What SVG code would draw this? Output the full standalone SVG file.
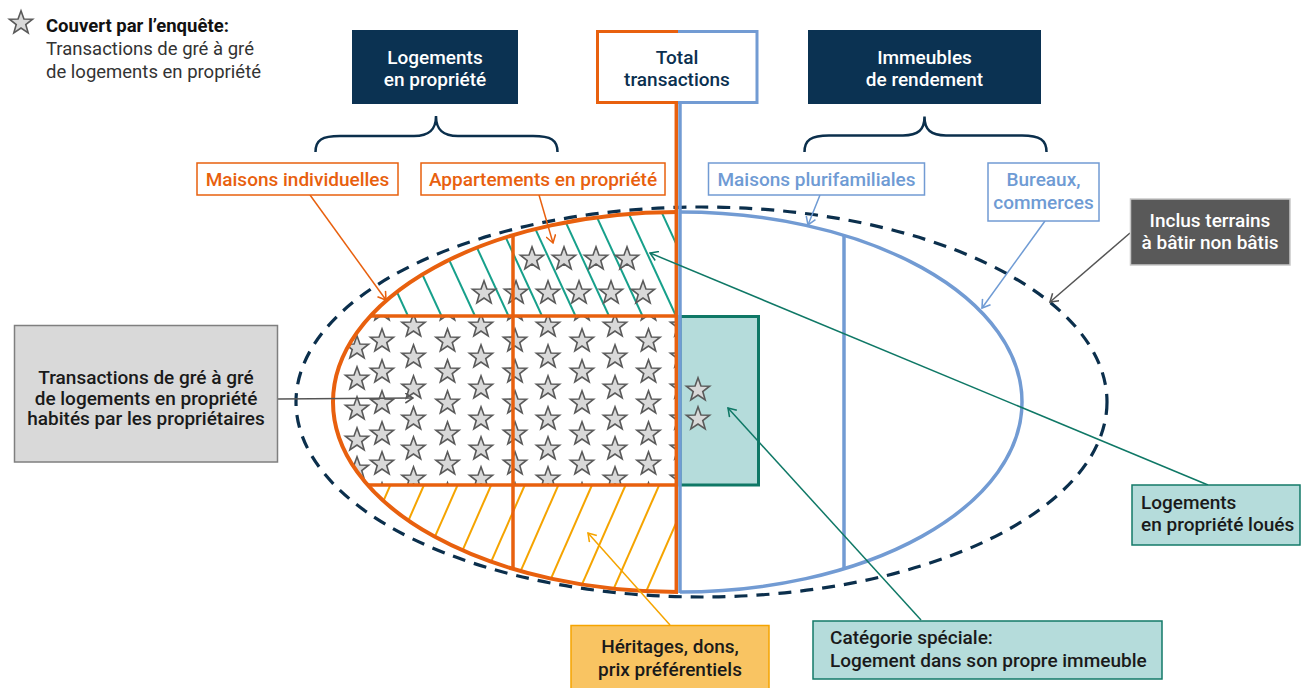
<svg xmlns="http://www.w3.org/2000/svg" xmlns:xlink="http://www.w3.org/1999/xlink" width="1304" height="688" viewBox="0 0 1304 688">
<style>
text{font-family:Roboto,"Liberation Sans",sans-serif;}
.t19{font-size:19px;font-weight:500;}
.hdr{fill:#ffffff;text-anchor:middle;}
.navy{fill:#0b3050;text-anchor:middle;}
.or{fill:#e8600e;text-anchor:middle;}
.bl{fill:#6f9bd4;text-anchor:middle;}
.dk{fill:#1a1a1a;}
.mid{text-anchor:middle;}
.teal{stroke:#17a08b;stroke-width:2;}
.yel{stroke:#f5a400;stroke-width:2;}
.conn{fill:none;stroke-width:1.5;}
</style>
<defs>
<path id="star" d="M0,-12.2 L2.94,-4.05 L11.6,-3.77 L4.76,1.55 L7.17,9.87 L0,5 L-7.17,9.87 L-4.76,1.55 L-11.6,-3.77 L-2.94,-4.05 Z" fill="#d9d9d9" stroke="#5a5a5a" stroke-width="1.6"/>
<clipPath id="ellL"><ellipse cx="678" cy="402" rx="345" ry="190"/></clipPath>
<clipPath id="topBand"><rect x="300" y="180" width="376" height="136"/></clipPath>
<clipPath id="midBand"><rect x="300" y="316" width="376" height="169"/></clipPath>
<clipPath id="botBand"><rect x="300" y="485" width="376" height="130"/></clipPath>
<marker id="aOr" viewBox="0 0 10 10" refX="9" refY="5" markerWidth="11" markerHeight="11" markerUnits="userSpaceOnUse" orient="auto"><path d="M2,0.5 L9,5 L2,9.5" fill="none" stroke="#e8600e" stroke-width="1.4"/></marker>
<marker id="aBl" viewBox="0 0 10 10" refX="9" refY="5" markerWidth="11" markerHeight="11" markerUnits="userSpaceOnUse" orient="auto"><path d="M2,0.5 L9,5 L2,9.5" fill="none" stroke="#6f9bd4" stroke-width="1.4"/></marker>
<marker id="aGr" viewBox="0 0 10 10" refX="9" refY="5" markerWidth="11" markerHeight="11" markerUnits="userSpaceOnUse" orient="auto"><path d="M2,0.5 L9,5 L2,9.5" fill="none" stroke="#555555" stroke-width="1.4"/></marker>
<marker id="aTe" viewBox="0 0 10 10" refX="9" refY="5" markerWidth="11" markerHeight="11" markerUnits="userSpaceOnUse" orient="auto"><path d="M2,0.5 L9,5 L2,9.5" fill="none" stroke="#0f7866" stroke-width="1.4"/></marker>
<marker id="aYe" viewBox="0 0 10 10" refX="9" refY="5" markerWidth="11" markerHeight="11" markerUnits="userSpaceOnUse" orient="auto"><path d="M2,0.5 L9,5 L2,9.5" fill="none" stroke="#f5a400" stroke-width="1.4"/></marker>
</defs>
<rect width="1304" height="688" fill="#ffffff"/>

<!-- legend -->
<g id="legend">
<use href="#star" x="21" y="23"/>
<text x="46" y="31.5" font-size="18.5" font-weight="700" fill="#111">Couvert par l’enquête:</text>
<text x="46" y="54.5" font-size="18.5" fill="#333">Transactions de gré à gré</text>
<text x="46" y="77.5" font-size="18.5" fill="#333">de logements en propriété</text>
</g>

<!-- inner ellipse content -->
<g id="hatch-stars">
<g clip-path="url(#ellL)">
<g clip-path="url(#topBand)">
<line class="teal" x1="314.5" y1="186" x2="374.5" y2="316"/>
<line class="teal" x1="348" y1="186" x2="408" y2="316"/>
<line class="teal" x1="381.5" y1="186" x2="441.5" y2="316"/>
<line class="teal" x1="415" y1="186" x2="475" y2="316"/>
<line class="teal" x1="448.5" y1="186" x2="508.5" y2="316"/>
<line class="teal" x1="482" y1="186" x2="542" y2="316"/>
<line class="teal" x1="515.5" y1="186" x2="575.5" y2="316"/>
<line class="teal" x1="549" y1="186" x2="609" y2="316"/>
<line class="teal" x1="582.5" y1="186" x2="642.5" y2="316"/>
<line class="teal" x1="616" y1="186" x2="676" y2="316"/>
<line class="teal" x1="649.5" y1="186" x2="709.5" y2="316"/>
<use href="#star" x="532" y="259"/><use href="#star" x="564" y="259"/><use href="#star" x="596" y="259"/><use href="#star" x="627" y="259"/>
<use href="#star" x="484" y="293"/><use href="#star" x="516" y="293"/><use href="#star" x="548" y="293"/><use href="#star" x="579" y="293"/><use href="#star" x="611" y="293"/><use href="#star" x="643" y="293"/>
</g>
<g clip-path="url(#botBand)">
<line class="yel" x1="390.4" y1="485" x2="333.4" y2="615"/>
<line class="yel" x1="424" y1="485" x2="367" y2="615"/>
<line class="yel" x1="457.6" y1="485" x2="400.6" y2="615"/>
<line class="yel" x1="491.2" y1="485" x2="434.2" y2="615"/>
<line class="yel" x1="524.8" y1="485" x2="467.8" y2="615"/>
<line class="yel" x1="558.4" y1="485" x2="501.4" y2="615"/>
<line class="yel" x1="592" y1="485" x2="535" y2="615"/>
<line class="yel" x1="625.6" y1="485" x2="568.6" y2="615"/>
<line class="yel" x1="659.2" y1="485" x2="602.2" y2="615"/>
<line class="yel" x1="692.8" y1="485" x2="635.8" y2="615"/>
</g>
<g clip-path="url(#midBand)">
<use href="#star" x="357" y="348"/><use href="#star" x="357" y="379"/><use href="#star" x="357" y="409"/><use href="#star" x="357" y="440"/><use href="#star" x="357" y="469"/>
<use href="#star" x="382" y="310"/><use href="#star" x="382" y="341"/><use href="#star" x="382" y="372"/><use href="#star" x="382" y="403"/><use href="#star" x="382" y="434"/><use href="#star" x="382" y="464"/><use href="#star" x="382" y="495"/>
<use href="#star" x="413.5" y="326"/><use href="#star" x="413.5" y="357"/><use href="#star" x="413.5" y="388"/><use href="#star" x="413.5" y="419"/><use href="#star" x="413.5" y="449"/><use href="#star" x="413.5" y="479"/>
<use href="#star" x="447.5" y="310"/><use href="#star" x="447.5" y="341"/><use href="#star" x="447.5" y="372"/><use href="#star" x="447.5" y="403"/><use href="#star" x="447.5" y="434"/><use href="#star" x="447.5" y="464"/><use href="#star" x="447.5" y="495"/>
<use href="#star" x="481" y="326"/><use href="#star" x="481" y="357"/><use href="#star" x="481" y="388"/><use href="#star" x="481" y="419"/><use href="#star" x="481" y="449"/><use href="#star" x="481" y="479"/>
<use href="#star" x="515" y="310"/><use href="#star" x="515" y="341"/><use href="#star" x="515" y="372"/><use href="#star" x="515" y="403"/><use href="#star" x="515" y="434"/><use href="#star" x="515" y="464"/><use href="#star" x="515" y="495"/>
<use href="#star" x="548" y="326"/><use href="#star" x="548" y="357"/><use href="#star" x="548" y="388"/><use href="#star" x="548" y="419"/><use href="#star" x="548" y="449"/><use href="#star" x="548" y="479"/>
<use href="#star" x="582" y="310"/><use href="#star" x="582" y="341"/><use href="#star" x="582" y="372"/><use href="#star" x="582" y="403"/><use href="#star" x="582" y="434"/><use href="#star" x="582" y="464"/><use href="#star" x="582" y="495"/>
<use href="#star" x="615" y="326"/><use href="#star" x="615" y="357"/><use href="#star" x="615" y="388"/><use href="#star" x="615" y="419"/><use href="#star" x="615" y="449"/><use href="#star" x="615" y="479"/>
<use href="#star" x="648.5" y="310"/><use href="#star" x="648.5" y="341"/><use href="#star" x="648.5" y="372"/><use href="#star" x="648.5" y="403"/><use href="#star" x="648.5" y="434"/><use href="#star" x="648.5" y="464"/><use href="#star" x="648.5" y="495"/>
<use href="#star" x="682" y="326"/><use href="#star" x="682" y="357"/><use href="#star" x="682" y="388"/><use href="#star" x="682" y="419"/><use href="#star" x="682" y="449"/><use href="#star" x="682" y="479"/>
</g>
</g>
</g>

<!-- special category rectangle -->
<g id="special-rect">
<rect x="680" y="316.5" width="78.5" height="168.5" fill="#b5dcdb" stroke="#0f7866" stroke-width="3"/>
<use href="#star" x="698" y="390"/>
<use href="#star" x="698" y="419"/>
</g>

<!-- outer dashed ellipse -->
<g id="outer-ellipse">
<ellipse cx="701.5" cy="402" rx="405.5" ry="195" fill="none" stroke="#0b2f4c" stroke-width="3.2" stroke-dasharray="13 9"/>
</g>

<!-- inner ellipse outlines -->
<g id="inner-ellipse">
<path d="M678,212 A345,190 0 0 0 678,592" fill="none" stroke="#e8600e" stroke-width="4"/>
<path d="M680,212 A342,190 0 0 1 680,592" fill="none" stroke="#729bd3" stroke-width="3.5"/>
<line x1="370.4" y1="316" x2="676" y2="316" stroke="#e8600e" stroke-width="3.5"/>
<line x1="367.7" y1="485" x2="676" y2="485" stroke="#e8600e" stroke-width="3.5"/>
<line x1="513" y1="235" x2="513" y2="569" stroke="#e8600e" stroke-width="3.5"/>
<line x1="844" y1="235.5" x2="844" y2="568.5" stroke="#729bd3" stroke-width="3.5"/>
<line x1="676.3" y1="103" x2="676.3" y2="592" stroke="#e8600e" stroke-width="3.5"/>
<line x1="680" y1="103" x2="680" y2="593" stroke="#729bd3" stroke-width="3.5"/>
</g>

<!-- braces -->
<g id="braces" fill="none" stroke="#0b2f4c" stroke-width="2.5">
<path d="M315.5,152 C315.5,140 322,136 340,136 L414,136 C429,136 436,130 436,116 C436,130 443,136 458,136 L533,136 C551,136 557.5,140 557.5,152"/>
<path d="M804.5,152 C804.5,140 811,135.5 829,135.5 L903,135.5 C918,135.5 924.5,130 924.5,116.5 C924.5,130 931,135.5 946,135.5 L1022,135.5 C1040,135.5 1046.5,140 1046.5,152"/>
</g>

<!-- connectors -->
<g id="connectors" class="conn">
<line x1="310" y1="195" x2="386" y2="300" stroke="#e8600e" marker-end="url(#aOr)"/>
<line x1="539" y1="195" x2="553" y2="243" stroke="#e8600e" marker-end="url(#aOr)"/>
<line x1="820" y1="195" x2="808" y2="225" stroke="#6f9bd4" marker-end="url(#aBl)"/>
<line x1="1045" y1="221" x2="982" y2="308" stroke="#6f9bd4" marker-end="url(#aBl)"/>
<line x1="1130" y1="233" x2="1050" y2="302" stroke="#555555" marker-end="url(#aGr)"/>
<line x1="278" y1="399" x2="413" y2="398" stroke="#555555" marker-end="url(#aGr)"/>
<line x1="1208" y1="485" x2="650" y2="253" stroke="#0f7866" marker-end="url(#aTe)"/>
<line x1="921" y1="620" x2="728" y2="408" stroke="#0f7866" marker-end="url(#aTe)"/>
<line x1="670" y1="625" x2="588" y2="533" stroke="#f5a400" marker-end="url(#aYe)"/>
</g>

<!-- header nodes -->
<g id="node-logements">
<rect x="352" y="30" width="166" height="74" fill="#0b3252"/>
<text class="t19 hdr" x="435" y="63.5">Logements</text>
<text class="t19 hdr" x="435" y="86">en propriété</text>
</g>
<g id="node-total">
<rect x="597.5" y="31.5" width="159.5" height="71" fill="#ffffff"/>
<path d="M678,31.5 H597.5 V102.5 H678" fill="none" stroke="#e8600e" stroke-width="3"/>
<path d="M678,31.5 H757 V102.5 H678" fill="none" stroke="#729bd3" stroke-width="3"/>
<text class="t19 navy" x="677" y="63.5">Total</text>
<text class="t19 navy" x="677" y="86">transactions</text>
</g>
<g id="node-immeubles">
<rect x="808" y="30" width="233" height="74" fill="#0b3252"/>
<text class="t19 hdr" x="924.5" y="63.5">Immeubles</text>
<text class="t19 hdr" x="924.5" y="86">de rendement</text>
</g>

<g id="node-maisons-ind">
<rect x="197" y="163" width="201" height="32" fill="#ffffff" stroke="#e8600e" stroke-width="1.5"/>
<text class="t19 or" x="297.5" y="185.5">Maisons individuelles</text>
</g>
<g id="node-appartements">
<rect x="421" y="163" width="244" height="32" fill="#ffffff" stroke="#e8600e" stroke-width="1.5"/>
<text class="t19 or" x="543" y="185.5">Appartements en propriété</text>
</g>
<g id="node-plurifam">
<rect x="708.5" y="163" width="216" height="32" fill="#ffffff" stroke="#729bd3" stroke-width="1.5"/>
<text class="t19 bl" x="816.5" y="185.5">Maisons plurifamiliales</text>
</g>
<g id="node-bureaux">
<rect x="988" y="163" width="111" height="58" fill="#ffffff" stroke="#729bd3" stroke-width="1.5"/>
<text class="t19 bl" x="1043.5" y="186">Bureaux,</text>
<text class="t19 bl" x="1043.5" y="208.5">commerces</text>
</g>
<g id="node-terrains">
<rect x="1130.5" y="199" width="159.5" height="66" fill="#595959" stroke="#c8c8c8" stroke-width="1.5"/>
<text class="t19 hdr" x="1210" y="227">Inclus terrains</text>
<text class="t19 hdr" x="1210" y="249">à bâtir non bâtis</text>
</g>
<g id="node-transactions">
<rect x="14.5" y="325.5" width="263" height="136.5" fill="#d9d9d9" stroke="#7f7f7f" stroke-width="1.5"/>
<text class="t19 dk mid" x="146" y="384">Transactions de gré à gré</text>
<text class="t19 dk mid" x="146" y="404.5">de logements en propriété</text>
<text class="t19 dk mid" x="146" y="425">habités par les propriétaires</text>
</g>
<g id="node-loues">
<rect x="1132" y="485" width="168" height="60" fill="#b5dcdb" stroke="#137a68" stroke-width="1.5"/>
<text class="t19 dk" x="1141" y="509">Logements</text>
<text class="t19 dk" x="1141" y="531">en propriété loués</text>
</g>
<g id="node-categorie">
<rect x="813" y="621" width="349" height="58" fill="#b5dcdb" stroke="#137a68" stroke-width="1.5"/>
<text class="t19 dk" x="830" y="643.5">Catégorie spéciale:</text>
<text class="t19 dk" x="830" y="666.5">Logement dans son propre immeuble</text>
</g>
<g id="node-heritages">
<rect x="571" y="625.5" width="198" height="70" fill="#f9c462" stroke="#f5a400" stroke-width="1.5"/>
<text class="t19 dk mid" x="670" y="653">Héritages, dons,</text>
<text class="t19 dk mid" x="670" y="676">prix préférentiels</text>
</g>
</svg>
